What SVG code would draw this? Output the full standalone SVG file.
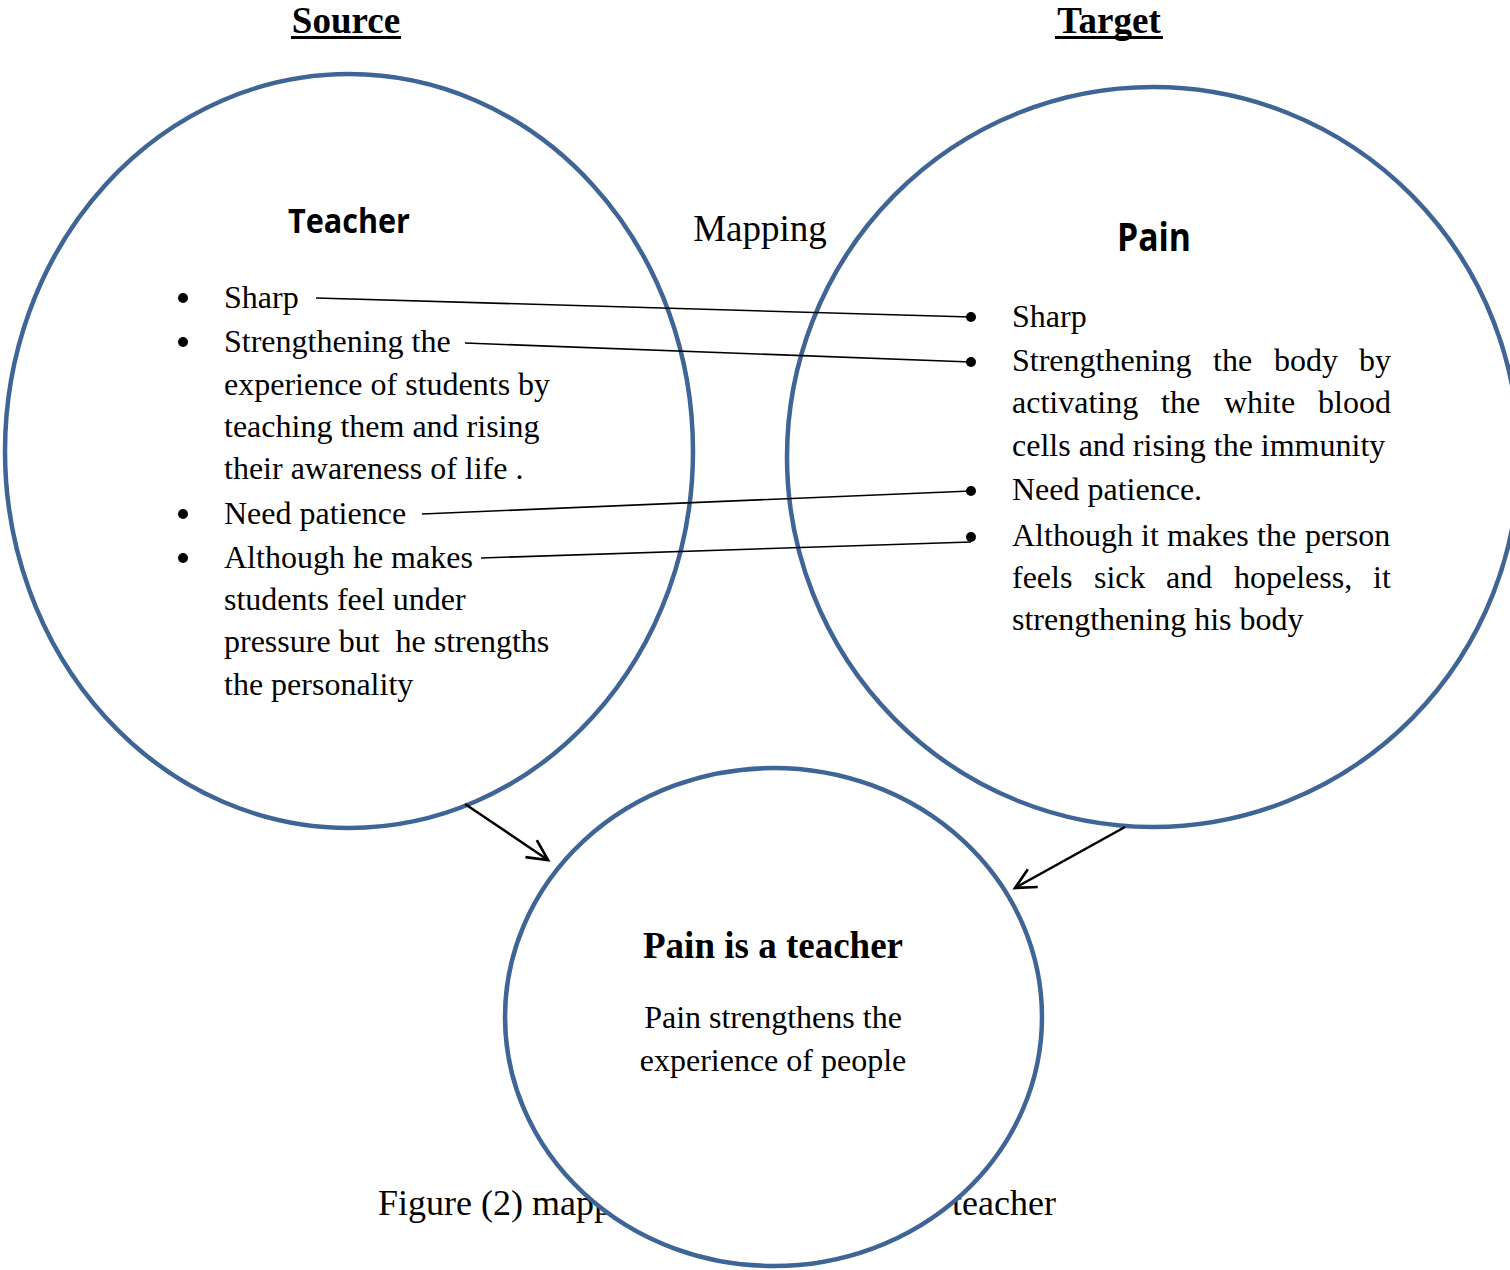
<svg xmlns="http://www.w3.org/2000/svg" width="1510" height="1270" viewBox="0 0 1510 1270">
  <style>
    .ring { fill: #ffffff; stroke: #3f6496; stroke-width: 4.5; }
    .body { font-family: "Liberation Serif", "Times New Roman", serif; font-size: 32px; fill: #000; }
    .title { font-family: "Liberation Serif", "Times New Roman", serif; font-size: 37px; font-weight: bold; fill: #000; }
    .head { font-family: "Open Sans", "Liberation Sans", sans-serif; font-weight: bold; fill: #000; }
    .link { stroke: #000; stroke-width: 1.6; fill: none; }
    .flow { stroke: #000; stroke-width: 2.5; fill: none; }
    .dot { fill: #000; }
  </style>
  <defs>
    <marker id="open-arrow" markerUnits="userSpaceOnUse" markerWidth="30" markerHeight="30" viewBox="-24 -12 28 24" refX="0" refY="0" orient="auto">
      <path d="M -19 -9.5 L 0 0 L -19 9.5" fill="none" stroke="#000" stroke-width="2.5"/>
    </marker>
  </defs>

  <rect width="1510" height="1270" fill="#ffffff"/>

  <!-- column titles -->
  <g id="title-source">
    <text class="title" x="346" y="33" text-anchor="middle">Source</text>
    <rect x="291" y="36" width="110" height="3" fill="#000"/>
  </g>
  <g id="title-target">
    <text class="title" x="1109" y="33" text-anchor="middle">Target</text>
    <rect x="1055" y="36" width="108" height="3" fill="#000"/>
  </g>

  <text id="label-mapping" class="body" x="760" y="241" text-anchor="middle" style="font-size:37px">Mapping</text>

  <!-- source domain -->
  <g id="node-teacher">
    <ellipse class="ring" cx="349" cy="451" rx="344" ry="377"/>
    <text class="head" x="288" y="233" font-size="34" textLength="122" lengthAdjust="spacingAndGlyphs">Teacher</text>
    <circle class="dot" cx="183" cy="298" r="5"/>
    <circle class="dot" cx="183" cy="342" r="5"/>
    <circle class="dot" cx="183" cy="514" r="5"/>
    <circle class="dot" cx="183" cy="558" r="5"/>
    <text class="body" x="224" y="308">Sharp</text>
    <text class="body" x="224" y="352">Strengthening the</text>
    <text class="body" x="224" y="395">experience of students by</text>
    <text class="body" x="224" y="437">teaching them and rising</text>
    <text class="body" x="224" y="479">their awareness of life .</text>
    <text class="body" x="224" y="524">Need patience</text>
    <text class="body" x="224" y="568">Although he makes</text>
    <text class="body" x="224" y="610">students feel under</text>
    <text class="body" x="224" y="652" xml:space="preserve">pressure but  he strengths</text>
    <text class="body" x="224" y="695">the personality</text>
  </g>

  <!-- target domain -->
  <g id="node-pain">
    <ellipse class="ring" cx="1153" cy="457" rx="366" ry="370"/>
    <text class="head" x="1117" y="251" font-size="39" textLength="74" lengthAdjust="spacingAndGlyphs">Pain</text>
    <circle class="dot" cx="971" cy="317" r="5"/>
    <circle class="dot" cx="971" cy="362" r="5"/>
    <circle class="dot" cx="971" cy="491" r="5"/>
    <circle class="dot" cx="971" cy="537" r="5"/>
    <text class="body" x="1012" y="327">Sharp</text>
    <text class="body" y="371"><tspan x="1012">Strengthening</tspan><tspan x="1213">the</tspan><tspan x="1274">body</tspan><tspan x="1359">by</tspan></text>
    <text class="body" y="413"><tspan x="1012">activating</tspan><tspan x="1161">the</tspan><tspan x="1224">white</tspan><tspan x="1318">blood</tspan></text>
    <text class="body" x="1012" y="456">cells and rising the immunity</text>
    <text class="body" x="1012" y="500">Need patience.</text>
    <text class="body" y="546"><tspan x="1012">Although</tspan><tspan x="1141">it</tspan><tspan x="1167">makes</tspan><tspan x="1257">the</tspan><tspan x="1305">person</tspan></text>
    <text class="body" y="588"><tspan x="1012">feels</tspan><tspan x="1094">sick</tspan><tspan x="1166">and</tspan><tspan x="1234">hopeless,</tspan><tspan x="1373">it</tspan></text>
    <text class="body" x="1012" y="630">strengthening his body</text>
  </g>

  <!-- figure caption, partly covered by the blend circle -->
  <g id="caption">
    <text class="body" x="378" y="1215" style="font-size:36px">Figure (2) mapp</text>
    <text class="body" x="1056" y="1215" text-anchor="end" style="font-size:36px">teacher</text>
  </g>

  <!-- blended space -->
  <g id="node-blend">
    <ellipse class="ring" cx="773.5" cy="1017" rx="268.5" ry="249"/>
    <text class="title" x="773" y="958" text-anchor="middle">Pain is a teacher</text>
    <text class="body" x="773" y="1028" text-anchor="middle">Pain strengthens the</text>
    <text class="body" x="773" y="1071" text-anchor="middle">experience of people</text>
  </g>

  <!-- mappings and projections -->
  <g id="connectors">
    <line class="link" x1="316" y1="298" x2="971" y2="317"/>
    <line class="link" x1="465" y1="343" x2="971" y2="362"/>
    <line class="link" x1="422" y1="514" x2="971" y2="491"/>
    <line class="link" x1="481" y1="558" x2="971" y2="542"/>
    <line class="flow" x1="465" y1="804" x2="548" y2="860" marker-end="url(#open-arrow)"/>
    <line class="flow" x1="1125" y1="827" x2="1015" y2="888" marker-end="url(#open-arrow)"/>
  </g>
</svg>
